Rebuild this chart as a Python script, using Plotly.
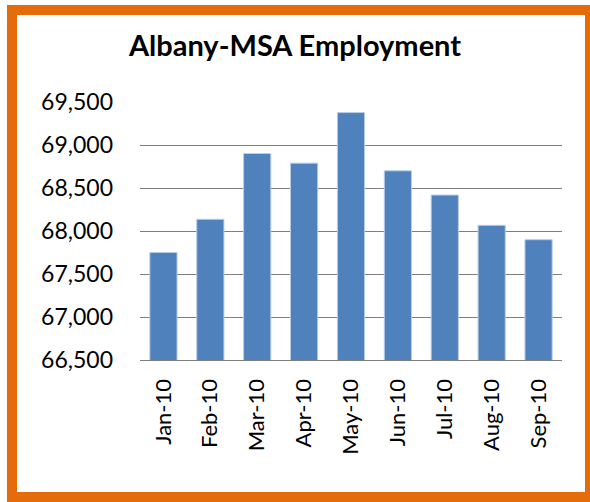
import plotly.graph_objects as go

months = ["Jan-10", "Feb-10", "Mar-10", "Apr-10", "May-10", "Jun-10", "Jul-10", "Aug-10", "Sep-10"]
employment = [67750, 68136, 68901, 68789, 69377, 68700, 68418, 68066, 67899]
y_ticks = [66500, 67000, 67500, 68000, 68500, 69000, 69500]
y_tick_labels = ["66,500", "67,000", "67,500", "68,000", "68,500", "69,000", "69,500"]

W, H = 590, 502
L, R, T, B = 140, 28, 102, 142
pw, ph = W - L - R, H - T - B

def px_x(x):
    return (x - L) / pw

def px_y(y):
    return (H - B - y) / ph

fig = go.Figure()
fig.add_trace(go.Bar(
    x=months, y=employment,
    marker=dict(color="#4F81BD", line=dict(color="#B9CDE5", width=1)),
))

fig.add_shape(type="rect", xref="paper", yref="paper",
              x0=px_x(12), x1=px_x(590), y0=px_y(497), y1=px_y(10),
              line=dict(color="#E46C0A", width=10), fillcolor="rgba(0,0,0,0)",
              layer="below")

fig.update_layout(
    width=W, height=H,
    margin=dict(l=L, r=R, t=T, b=B, pad=0),
    paper_bgcolor="white", plot_bgcolor="white",
    bargap=0.42,
    showlegend=False,
    title=dict(text="<b>Albany-MSA Employment</b>", x=0.5, xref="container", xanchor="center",
               y=1 - 46 / H, yref="container", yanchor="middle",
               font=dict(family="Lato", size=29, color="black")),
    font=dict(family="Lato", size=22, color="black"),
)
fig.update_yaxes(range=[66500, 69500], tickvals=y_ticks, ticktext=y_tick_labels,
                 showgrid=True, gridcolor="#7F7F7F", gridwidth=1.3,
                 zeroline=False, showline=False, ticks="", ticklabelstandoff=26,
                 tickfont=dict(family="Lato", size=23, color="black"))
fig.update_xaxes(tickangle=-90, showline=True, linecolor="#7F7F7F", linewidth=1.3,
                 ticks="", ticklabelstandoff=9,
                 tickfont=dict(family="Lato", size=22, color="black"))

fig.write_html("out.html")
